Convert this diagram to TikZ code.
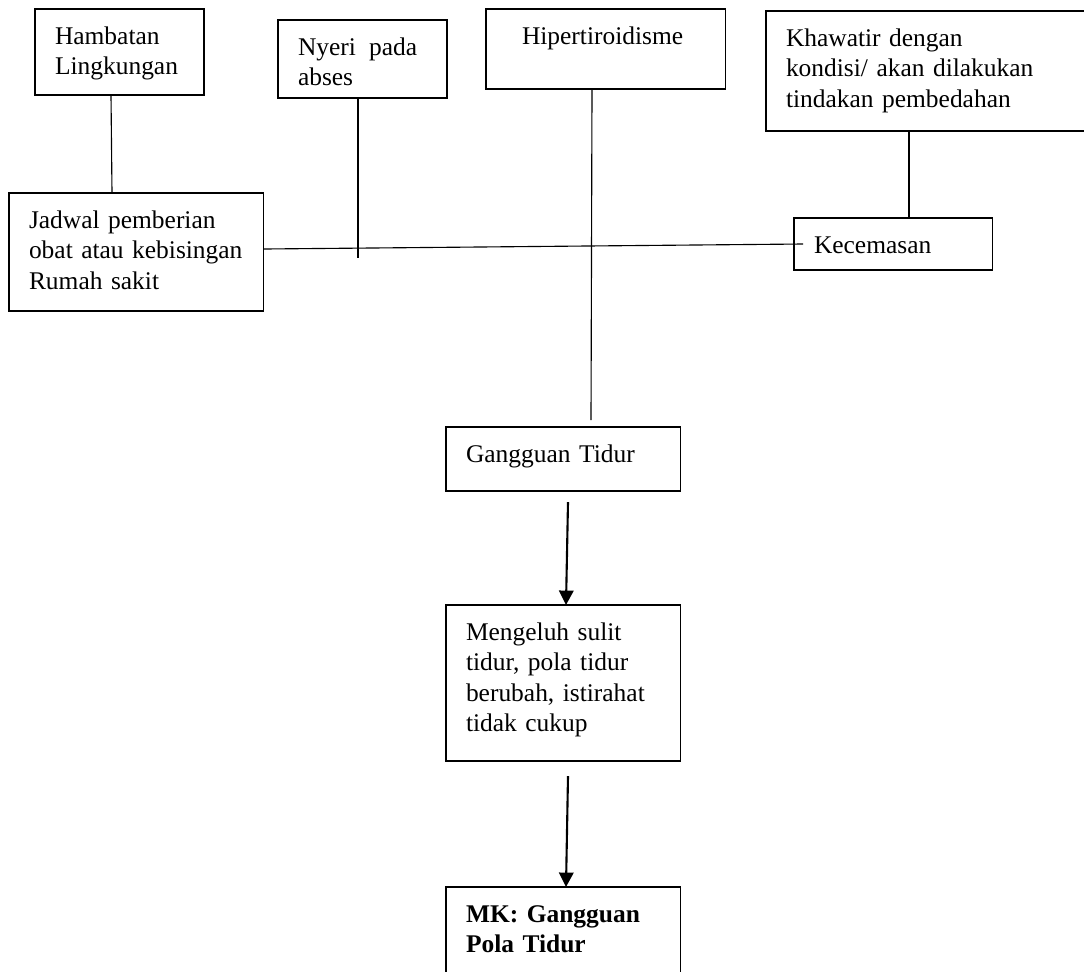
\documentclass[tikz,border=0pt]{standalone}
\usepackage{fontspec}
\setmainfont{Liberation Serif}
\usetikzlibrary{shapes,arrows.meta,calc}

\tikzset{
	kotak/.style={draw, rectangle, anchor=north west, align=left, line width=0.8pt,
		inner xsep=0.5cm, inner ysep=0pt, outer sep=0pt, text height=0.875cm,
		font=\fontsize{18.1pt}{21.7pt}\selectfont},
	tipis/.style={line width=0.8pt},
	tebal/.style={line width=1.7pt},
	panah/.style={line width=1.5pt, -{Triangle[length=0.36cm,width=0.36cm]}}
}

\begin{document}
\begin{tikzpicture}[x=0.025cm, y=-0.025cm]
		\useasboundingbox (0,0) rectangle (1084,972);
		\node [kotak, text width=3.225cm, text depth=1.275cm] (hambatan) at (35,9) {Hambatan\\Lingkungan};
		\node [kotak, text width=3.225cm, text depth=1.075cm] (nyeri) at (278,20) {Nyeri\hspace{0.33cm}pada\\abses};
		\node [kotak, text width=4.975cm, text depth=1.125cm] (hipertiroid) at (486,9) {\hspace{0.4cm}Hipertiroidisme};
		\node [kotak, text width=7.35cm, text depth=2.125cm] (khawatir) at (766,11) {Khawatir dengan\\kondisi/ akan dilakukan\\tindakan pembedahan};
		\node [kotak, text width=5.35cm, text depth=2.075cm] (jadwal) at (9,193) {Jadwal pemberian\\obat atau kebisingan\\Rumah sakit};
		\node [kotak, text width=3.95cm, text depth=0.425cm] (kecemasan) at (794,218) {Kecemasan};
		\node [kotak, text width=4.85cm, text depth=0.725cm] (gangguan) at (446,427) {Gangguan Tidur};
		\node [kotak, text width=4.85cm, text depth=3.025cm] (mengeluh) at (446,605) {Mengeluh sulit\\tidur, pola tidur\\berubah, istirahat\\tidak cukup};
		\node [kotak, text width=4.85cm, text depth=2.825cm] (mk) at (446,887) {\textbf{MK: Gangguan}\\\textbf{Pola Tidur}};
		\draw [tipis] ($(hambatan.south west)+(76,0)$) -- ($(jadwal.north west)+(103,0)$);
		\draw [tebal] ($(nyeri.south west)+(80,0)$) -- ++(0,160);
		\draw [tipis] ($(jadwal.east)+(0,-3)$) -- ($(kecemasan.west)+(9,0)$);
		\draw [tipis] ($(hipertiroid.south west)+(106,0)$) -- ($(gangguan.north west)+(145,-7)$);
		\draw [tebal] ($(khawatir.south west)+(143,0)$) -- ($(kecemasan.north west)+(115,0)$);
		\draw [panah] ($(gangguan.south west)+(122,11)$) -- ($(mengeluh.north west)+(120,0)$);
		\draw [panah] ($(mengeluh.south west)+(122,15)$) -- ($(mk.north west)+(120,0)$);
		\end{tikzpicture}
\end{document}
